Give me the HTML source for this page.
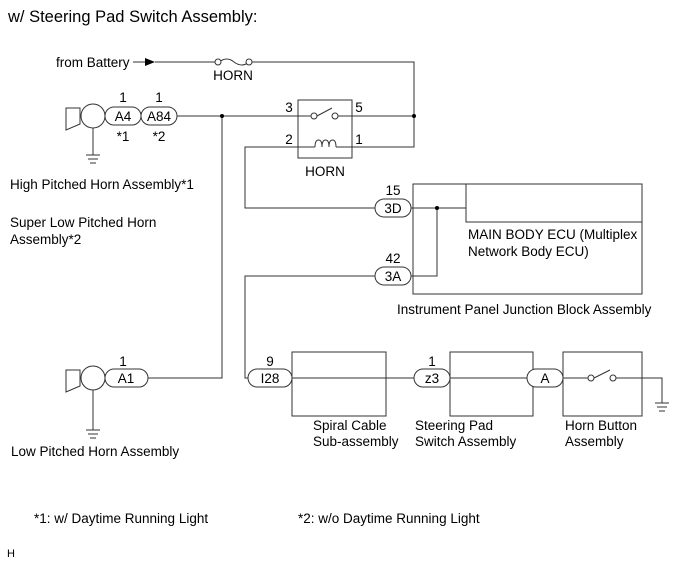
<!DOCTYPE html>
<html><head><style>body{margin:0;background:#fff}svg{display:block}text{font-family:"Liberation Sans",sans-serif;font-size:13.5px;fill:#000}</style></head><body>
<svg width="691" height="564" viewBox="0 0 691 564" xmlns="http://www.w3.org/2000/svg">
<g fill="none" stroke="#333" stroke-width="1">
<path d="M133 62H145M155 62H216M252 62H414V147H352"/>
<path d="M219 62 q8 -6 15 0 q8 6 15 0" />
<circle cx="218" cy="62" r="3" fill="#fff"/><circle cx="249" cy="62" r="3" fill="#fff"/>
<path d="M66 108H80V124L66 130Z"/>
<circle cx="93" cy="116" r="12" fill="#fff"/>
<path d="M93 128V155M86 155H100M88 159H98M90 163H96"/>
<rect x="105" y="107" width="36" height="18" rx="9" fill="#fff"/>
<rect x="141" y="107" width="36" height="18" rx="9" fill="#fff"/>
<path d="M177 116H298M352 116H414"/>
<rect x="298" y="100" width="54" height="58"/>
<path d="M298 116H311M317 116L332 108M338 116H352"/>
<circle cx="314" cy="116" r="3"/><circle cx="335" cy="116" r="3"/>
<path d="M298 147H315M336 147H352M315 147q0 -7 3.5 -7t3.5 7q0 -7 3.5 -7t3.5 7q0 -7 3.5 -7t3.5 7"/>
<path d="M298 147H245V208H375"/>
<path d="M222 116V378H148"/>
<path d="M66 370H80V386L66 392Z"/>
<circle cx="93" cy="378" r="12" fill="#fff"/>
<rect x="105" y="369" width="43" height="18" rx="9" fill="#fff"/>
<path d="M93 390V430M86 430H100M88 434H98M90 438H96"/>
<rect x="413" y="184" width="229" height="110"/>
<path d="M466 184V222H642"/>
<rect x="375" y="199" width="36" height="18" rx="9" fill="#fff"/>
<rect x="375" y="267" width="36" height="18" rx="9" fill="#fff"/>
<path d="M411 208H466M437 208V276H411"/>
<path d="M375 276H245V378H248"/>
<rect x="248" y="369" width="44" height="18" rx="9" fill="#fff"/>
<rect x="292" y="352" width="94" height="64"/>
<path d="M292 378H414"/>
<rect x="414" y="369" width="36" height="18" rx="9" fill="#fff"/>
<rect x="450" y="352" width="83" height="64"/>
<path d="M450 378H527"/>
<rect x="527" y="369" width="36" height="18" rx="9" fill="#fff"/>
<rect x="563" y="352" width="79" height="64"/>
<path d="M563 378H588M594 378L610 370M616 378H662V403M655 403H669M657 407H667M659 411H665"/>
<circle cx="591" cy="378" r="3"/><circle cx="613" cy="378" r="3"/>
</g>
<circle cx="222" cy="116" r="2" fill="#000"/><circle cx="414" cy="116" r="2" fill="#000"/><circle cx="437" cy="208" r="2" fill="#000"/>
<path d="M145 58L155 62L145 66Z" fill="#000"/>
<text x="8" y="22" style="font-size:16.5px">w/ Steering Pad Switch Assembly:</text>
<text x="56" y="67">from Battery</text>
<text x="233" y="80" text-anchor="middle">HORN</text>
<text x="123" y="102" text-anchor="middle">1</text><text x="159" y="102" text-anchor="middle">1</text>
<text x="123" y="121" text-anchor="middle">A4</text><text x="159" y="121" text-anchor="middle">A84</text>
<text x="123" y="141" text-anchor="middle">*1</text><text x="159" y="141" text-anchor="middle">*2</text>
<text x="289" y="112" text-anchor="middle">3</text><text x="359" y="112" text-anchor="middle">5</text>
<text x="289" y="144" text-anchor="middle">2</text><text x="359" y="144" text-anchor="middle">1</text>
<text x="325" y="176" text-anchor="middle">HORN</text>
<text x="10" y="189">High Pitched Horn Assembly*1</text>
<text x="10" y="227">Super Low Pitched Horn</text>
<text x="10" y="244">Assembly*2</text>
<text x="393" y="195" text-anchor="middle">15</text><text x="393" y="213" text-anchor="middle">3D</text>
<text x="393" y="263" text-anchor="middle">42</text><text x="393" y="281" text-anchor="middle">3A</text>
<text x="468" y="239">MAIN BODY ECU (Multiplex</text>
<text x="468" y="256">Network Body ECU)</text>
<text x="397" y="314">Instrument Panel Junction Block Assembly</text>
<text x="123" y="366" text-anchor="middle">1</text><text x="126" y="383" text-anchor="middle">A1</text>
<text x="270" y="366" text-anchor="middle">9</text><text x="270" y="383" text-anchor="middle">I28</text>
<text x="432" y="366" text-anchor="middle">1</text><text x="432" y="383" text-anchor="middle">z3</text>
<text x="545" y="383" text-anchor="middle">A</text>
<text x="313" y="430">Spiral Cable</text><text x="313" y="446">Sub-assembly</text>
<text x="415" y="430">Steering Pad</text><text x="415" y="446">Switch Assembly</text>
<text x="565" y="430">Horn Button</text><text x="565" y="446">Assembly</text>
<text x="11" y="456">Low Pitched Horn Assembly</text>
<text x="34" y="523">*1: w/ Daytime Running Light</text>
<text x="298" y="523">*2: w/o Daytime Running Light</text>
<text x="7" y="557" style="font-size:11px">H</text>
</svg></body></html>
